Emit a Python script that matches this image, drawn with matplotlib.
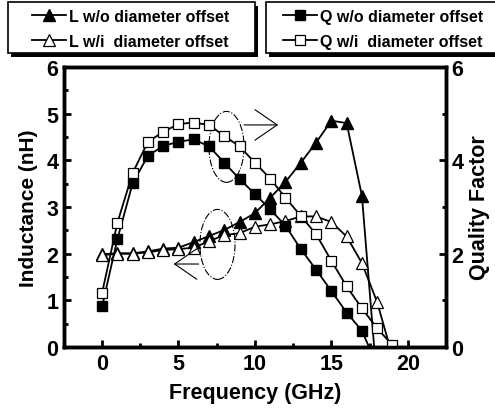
import matplotlib
matplotlib.use("Agg")
import matplotlib.pyplot as plt
from matplotlib.patches import Ellipse, Rectangle
from matplotlib.ticker import MultipleLocator

plt.rcParams['font.family'] = ['Liberation Sans', 'DejaVu Sans']
plt.rcParams['font.weight'] = 'bold'

# Frequency points (GHz)
freq = [0, 1, 2, 3, 4, 5, 6, 7, 8, 9, 10, 11, 12, 13, 14, 15, 16, 17, 18, 19]

# Inductance (nH)
L_wo = [1.99, 2.01, 2.01, 2.05, 2.11, 2.13, 2.25, 2.38, 2.51, 2.68, 2.87, 3.2,
        3.54, 3.95, 4.38, 4.85, 4.80, 3.24, -0.8]
L_wi = [1.97, 2.0, 2.0, 2.03, 2.08, 2.1, 2.13, 2.27, 2.4, 2.44, 2.58, 2.63,
        2.70, 2.80, 2.80, 2.68, 2.37, 1.8, 0.96, -0.2]

# Quality factor
Q_wo = [0.87, 2.31, 3.51, 4.1, 4.31, 4.40, 4.45, 4.30, 3.95, 3.6, 3.28, 2.95,
        2.6, 2.1, 1.66, 1.2, 0.74, 0.35, -0.4]
Q_wi = [1.16, 2.66, 3.73, 4.40, 4.61, 4.78, 4.81, 4.76, 4.52, 4.30, 3.95, 3.61,
        3.2, 2.81, 2.42, 1.85, 1.30, 0.83, 0.40, 0.04]

W, H = 495, 410
fig = plt.figure(figsize=(W / 100, H / 100), dpi=100)
ax = fig.add_axes([0.129, 0.151, 0.772, 0.683])
ax2 = ax.twinx()

ms_t, ms_s = 8.5, 7
l1, = ax.plot(freq[:len(L_wo)], L_wo, '-^', color='black', lw=1.3, ms=ms_t,
              mfc='black', mec='black', label='L w/o diameter offset')
l2, = ax.plot(freq[:len(L_wi)], L_wi, '-^', color='black', lw=1.3, ms=ms_t,
              mfc='white', mec='black', mew=0.9, label='L w/i  diameter offset')
q1, = ax2.plot(freq[:len(Q_wo)], Q_wo, '-s', color='black', lw=1.3, ms=ms_s,
               mfc='black', mec='black', label='Q w/o diameter offset')
q2, = ax2.plot(freq[:len(Q_wi)], Q_wi, '-s', color='black', lw=1.3, ms=ms_s,
               mfc='white', mec='black', mew=0.9, label='Q w/i  diameter offset')

for a in (ax, ax2):
    a.set_xlim(-2.5, 22.5)
    a.set_ylim(0, 6)

ax.xaxis.set_major_locator(MultipleLocator(5))
ax.xaxis.set_minor_locator(MultipleLocator(2.5))
ax.yaxis.set_major_locator(MultipleLocator(1))
ax.yaxis.set_minor_locator(MultipleLocator(0.5))
ax2.yaxis.set_major_locator(MultipleLocator(2))
ax2.yaxis.set_minor_locator(MultipleLocator(1))

ax.tick_params(axis='both', which='both', direction='in', width=2, labelsize=15.5, pad=4)
ax.tick_params(which='major', length=5)
ax.tick_params(which='minor', length=3)
ax.tick_params(axis='x', which='both', top=False)
ax2.tick_params(axis='y', which='both', direction='in', width=2, labelsize=15.5, pad=4)
ax2.tick_params(which='major', length=5)
ax2.tick_params(which='minor', length=3)
for a in (ax, ax2):
    for s in a.spines.values():
        s.set_linewidth(2.5)

ax.set_xlabel('Frequency (GHz)', fontsize=15.5, fontweight='bold', labelpad=6)
ax.set_ylabel('Inductance (nH)', fontsize=15, fontweight='bold', labelpad=6)
ax2.set_ylabel('Quality Factor', fontsize=15.5, fontweight='bold', labelpad=4)

# Ellipses and arrows
ax.add_patch(Ellipse((8.14, 4.29), 2.3, 1.52, fill=False, ls='-.', lw=0.8, color='black'))
ax.add_patch(Ellipse((7.55, 2.2), 2.3, 1.5, fill=False, ls='-.', lw=0.8, color='black'))
arrow = dict(arrowstyle='->,head_length=0.8,head_width=0.55', lw=0.8,
             color='black', mutation_scale=20)
ax.annotate('', xy=(11.7, 4.76), xytext=(9.1, 4.76), arrowprops=arrow)
ax.annotate('', xy=(4.5, 1.78), xytext=(6.5, 1.78), arrowprops=arrow)

# Legend boxes with black drop shadow (pixel coordinates, top-left origin)
def box(x0, y0, x1, y1):
    fig.patches.append(Rectangle((x0 + 3, H - y1 - 4), x1 - x0, y1 - y0,
                                 transform=None, facecolor='black', edgecolor='none', zorder=2))
    fig.patches.append(Rectangle((x0, H - y1), x1 - x0, y1 - y0,
                                 transform=None, facecolor='white', edgecolor='black',
                                 lw=1.2, zorder=3))

box(8, 3, 255, 54)
box(266, 3, 500, 54)

leg_kw = dict(fontsize=11.5, frameon=False, handlelength=2.1, handletextpad=0.2,
              labelspacing=0.62, borderpad=0, borderaxespad=0)
lg1 = fig.legend([l1, l2], [l1.get_label(), l2.get_label()], loc='upper left',
                 bbox_to_anchor=(32 / W, 1 - 10 / H), **leg_kw)
lg2 = fig.legend([q1, q2], [q1.get_label(), q2.get_label()], loc='upper left',
                 bbox_to_anchor=(283 / W, 1 - 10 / H), **leg_kw)
for lg in (lg1, lg2):
    lg.set_zorder(6)

fig.savefig('out.png', dpi=100)
